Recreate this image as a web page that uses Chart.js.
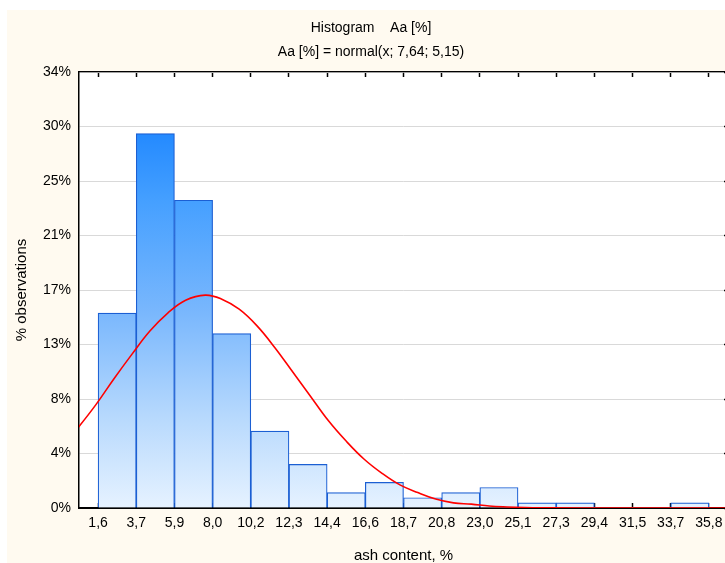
<!DOCTYPE html>
<html>
<head>
<meta charset="utf-8">
<script src="https://cdn.jsdelivr.net/npm/chart.js@4/dist/chart.umd.min.js"></script>
<style>
  html, body { margin: 0; padding: 0; background: #ffffff; overflow: hidden; }
  canvas { display: block; }
</style>
</head>
<body>
<canvas id="c" width="735" height="570"></canvas>
<script>
// ---- data ----
const titleLines = ['Histogram    Aa [%]', 'Aa [%] = normal(x; 7,64; 5,15)'];
const xAxisTitle = 'ash content, %';
const yAxisTitle = '% observations';
const edgeLabels = ['1,6','3,7','5,9','8,0','10,2','12,3','14,4','16,6','18,7','20,8','23,0','25,1','27,3','29,4','31,5','33,7','35,8'];
const binStart = 1.6;
const binWidth = 2.1375;
const binPercents = [15.2, 29.2, 24.0, 13.6, 6.0, 3.4, 1.2, 2.0, 0.8, 1.2, 1.6, 0.4, 0.4, 0, 0, 0.4];
const yTickLabels = ['0%','4%','8%','13%','17%','21%','25%','30%','34%'];
const yMax = 34;
const curveX = [0, 0.5, 1.5, 2.5, 3.5, 4.5, 5.5, 6.5, 7.6, 8.5, 9.5, 10.5, 11.5, 12.5, 13.5, 14.5, 15.5, 16.5, 17.5, 18.5, 19.5, 20.5, 21.5, 22.5, 23.5, 24.5, 25.5, 27, 30, 37];
const curveY = [5.5, 6.3, 8.1, 10.1, 12.0, 13.8, 15.2, 16.2, 16.6, 16.3, 15.5, 14.2, 12.5, 10.6, 8.7, 6.8, 5.2, 3.8, 2.7, 1.8, 1.2, 0.7, 0.4, 0.3, 0.15, 0.08, 0.04, 0.01, 0, 0];

const xMin = binStart - binWidth / 2;
const xMax = binStart + (edgeLabels.length - 1) * binWidth + binWidth / 2;
const edgeValues = edgeLabels.map((_, i) => binStart + i * binWidth);
const yStep = yMax / (yTickLabels.length - 1);

const FONT = "'Liberation Sans', Arial, sans-serif";

let gradCache = null;
function barFill(ctx) {
  const chart = ctx.chart;
  const a = chart.chartArea;
  if (!a) return '#78b6fd';
  if (gradCache && gradCache.top === a.top && gradCache.bottom === a.bottom) return gradCache.g;
  const g = chart.ctx.createLinearGradient(0, a.top, 0, a.bottom);
  g.addColorStop(0.0, '#137fff');
  g.addColorStop(0.12, '#1f87ff');
  g.addColorStop(0.3, '#46a0ff');
  g.addColorStop(0.55, '#79b7fd');
  g.addColorStop(0.8, '#b9dafd');
  g.addColorStop(1.0, '#e6f2ff');
  gradCache = { top: a.top, bottom: a.bottom, g };
  return g;
}

const backgroundPlugin = {
  id: 'bg',
  beforeDraw(chart) {
    const { ctx, chartArea: a, width, height } = chart;
    ctx.save();
    ctx.fillStyle = '#fffaf0';
    ctx.fillRect(7, 10, width - 7, height - 10);
    ctx.fillStyle = '#ffffff';
    ctx.fillRect(a.left, a.top, a.right - a.left, a.bottom - a.top);
    ctx.restore();
  }
};

const setEdgeTicks = (scale) => { scale.ticks = edgeValues.map(v => ({ value: v })); };
const setYTicks = (scale) => { scale.ticks = yTickLabels.map((_, i) => ({ value: i * yStep })); };

new Chart(document.getElementById('c'), {
  type: 'bar',
  data: {
    datasets: [
      {
        type: 'line',
        data: curveX.map((x, i) => ({ x, y: curveY[i] })),
        borderColor: '#ff0000',
        borderWidth: 1.6,
        pointRadius: 0,
        fill: false,
        tension: 0.4,
        order: 1,
        xAxisID: 'x',
        yAxisID: 'y'
      },
      {
        type: 'bar',
        data: binPercents.map((p, i) => ({ x: binStart + (i + 0.5) * binWidth, y: p })),
        backgroundColor: barFill,
        borderColor: '#1b5fd3',
        borderWidth: (ctx) => (ctx.raw && ctx.raw.y > 0 ? 1.2 : 0),
        borderSkipped: 'start',
        barPercentage: 1,
        categoryPercentage: 1,
        order: 2,
        xAxisID: 'x',
        yAxisID: 'y'
      }
    ]
  },
  options: {
    responsive: false,
    animation: false,
    devicePixelRatio: 1,
    layout: { padding: { left: 7, right: 0, top: 0, bottom: 0 } },
    plugins: {
      legend: { display: false },
      tooltip: { enabled: false },
      title: {
        display: true,
        text: titleLines,
        color: '#000000',
        font: { family: FONT, size: 14, weight: 'normal', lineHeight: 24 / 14 },
        padding: { top: 16, bottom: 0 }
      }
    },
    scales: {
      x: {
        type: 'linear',
        position: 'bottom',
        min: xMin,
        max: xMax,
        offset: false,
        afterBuildTicks: setEdgeTicks,
        afterFit: (s) => { s.height = 62; },
        ticks: {
          autoSkip: false,
          maxRotation: 0,
          color: '#000000',
          padding: 12,
          font: { family: FONT, size: 14 },
          callback: (v, i) => edgeLabels[i]
        },
        grid: { offset: false, drawOnChartArea: false, drawTicks: true, tickLength: -5, tickColor: '#000000', tickWidth: 1.5 },
        border: { display: true, color: '#000000', width: 2 },
        title: { display: true, text: xAxisTitle, color: '#000000', font: { family: FONT, size: 15 }, padding: { top: 0, bottom: 5 } }
      },
      xTop: {
        type: 'linear',
        position: 'top',
        min: xMin,
        max: xMax,
        offset: false,
        afterBuildTicks: setEdgeTicks,
        afterFit: (s) => { s.height = 8; },
        ticks: { display: false },
        grid: { offset: false, drawOnChartArea: false, drawTicks: true, tickLength: -5, tickColor: '#000000', tickWidth: 1.5 },
        border: { display: true, color: '#000000', width: 1.2 }
      },
      y: {
        type: 'linear',
        position: 'left',
        min: 0,
        max: yMax,
        afterBuildTicks: setYTicks,
        afterFit: (s) => { s.width = 72; },
        ticks: {
          color: '#000000',
          padding: 8,
          font: { family: FONT, size: 14 },
          callback: (v, i) => yTickLabels[i]
        },
        grid: { color: '#d9d9d9', lineWidth: 1, drawTicks: false },
        border: { display: true, color: '#000000', width: 1.5 },
        title: { display: true, text: yAxisTitle, color: '#000000', font: { family: FONT, size: 15 }, padding: { top: 6, bottom: 0 } }
      },
      yRight: {
        type: 'linear',
        position: 'right',
        min: 0,
        max: yMax,
        afterBuildTicks: setYTicks,
        afterFit: (s) => { s.width = 7; },
        ticks: { display: false },
        grid: { drawOnChartArea: false, drawTicks: true, tickLength: -4, tickColor: '#000000', tickWidth: 1.5 },
        border: { display: true, color: '#000000', width: 1 }
      }
    }
  },
  plugins: [backgroundPlugin]
});
</script>
</body>
</html>
